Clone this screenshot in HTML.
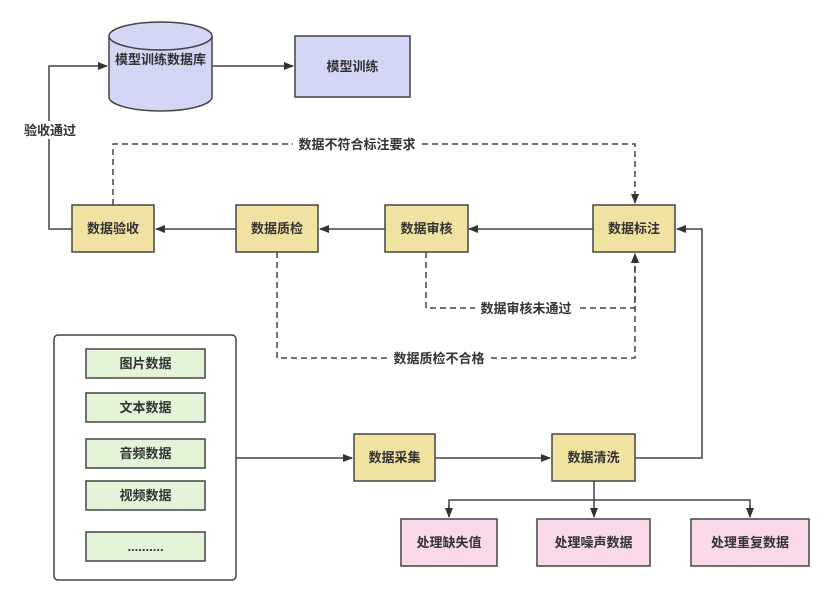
<!DOCTYPE html>
<html><head><meta charset="utf-8"><style>
html,body{margin:0;padding:0;background:#fff;}
svg text{font-family:"Liberation Sans","Noto Sans CJK SC",sans-serif;font-weight:bold;fill:#333;font-size:13px;}
</style></head><body>
<svg width="830" height="602" viewBox="0 0 830 602" xmlns="http://www.w3.org/2000/svg">
<defs>
<marker id="a" markerWidth="10" markerHeight="8" refX="9" refY="4" orient="auto" markerUnits="userSpaceOnUse"><path d="M0,0 L10,4 L0,8 Z" fill="#333"/></marker>
</defs>
<g stroke="#444" stroke-width="1.5" fill="none">
<!-- solid connectors -->
<path d="M72,229 H49 V66 H107" marker-end="url(#a)"/>
<path d="M212,66 H293" marker-end="url(#a)"/>
<path d="M236,229 H156" marker-end="url(#a)"/>
<path d="M385,229 H320" marker-end="url(#a)"/>
<path d="M593,229 H469" marker-end="url(#a)"/>
<path d="M236,458 H352" marker-end="url(#a)"/>
<path d="M435,458 H550" marker-end="url(#a)"/>
<path d="M635,458 H702 V229 H677" marker-end="url(#a)"/>
<path d="M594,481 V517" marker-end="url(#a)"/>
<path d="M449,517 V500 H750 V517" />
<path d="M449,505 V517" marker-end="url(#a)"/>
<path d="M750,505 V517" marker-end="url(#a)"/>
<!-- dashed -->
<g stroke-dasharray="6,4">
<path d="M113,205 V144 H635 V203" marker-end="url(#a)"/>
<path d="M426,252 V308 H635 V254" marker-end="url(#a)"/>
<path d="M277,252 V358 H635 V254" marker-end="url(#a)"/>
</g>
</g>
<!-- label backgrounds -->
<g fill="#fff">
<rect x="22" y="121" width="56" height="18"/>
<rect x="293" y="135" width="128" height="18"/>
<rect x="475" y="299" width="102" height="18"/>
<rect x="388" y="349" width="102" height="18"/>
</g>
<text x="50" y="135" text-anchor="middle">验收通过</text>
<text x="357" y="149" text-anchor="middle">数据不符合标注要求</text>
<text x="526" y="313" text-anchor="middle">数据审核未通过</text>
<text x="439" y="363" text-anchor="middle">数据质检不合格</text>
<!-- cylinder -->
<path d="M109,36 V97 A51.5,14 0 0 0 212,97 V36" fill="#d4d6f5" stroke="#444" stroke-width="1.5"/>
<ellipse cx="160.5" cy="36" rx="51.5" ry="14" fill="#d4d6f5" stroke="#444" stroke-width="1.5"/>
<text x="160.5" y="64" text-anchor="middle">模型训练数据库</text>
<rect x="295" y="36" width="115" height="61" fill="#d4d6f5" stroke="#444" stroke-width="1.5"/>
<text x="352.5" y="71" text-anchor="middle">模型训练</text>
<!-- yellow -->
<g fill="#f0e2a0" stroke="#444" stroke-width="1.5">
<rect x="72" y="205" width="82" height="47"/>
<rect x="236" y="205" width="82" height="47"/>
<rect x="385" y="205" width="83" height="47"/>
<rect x="593" y="205" width="82" height="47"/>
<rect x="354" y="434" width="81" height="47"/>
<rect x="552" y="434" width="83" height="47"/>
</g>
<g text-anchor="middle">
<text x="113" y="233">数据验收</text>
<text x="277" y="233">数据质检</text>
<text x="426.5" y="233">数据审核</text>
<text x="634" y="233">数据标注</text>
<text x="394.5" y="462">数据采集</text>
<text x="593.5" y="462">数据清洗</text>
</g>
<!-- outer box -->
<rect x="54" y="335" width="182" height="245" rx="4" fill="#fff" stroke="#444" stroke-width="1.5"/>
<g fill="#e3f4d9" stroke="#444" stroke-width="1.5">
<rect x="86" y="349" width="119" height="29"/>
<rect x="86" y="393" width="119" height="29"/>
<rect x="86" y="439" width="119" height="29"/>
<rect x="86" y="481" width="119" height="29"/>
<rect x="86" y="532" width="119" height="29"/>
</g>
<g text-anchor="middle">
<text x="145.5" y="368">图片数据</text>
<text x="145.5" y="412">文本数据</text>
<text x="145.5" y="458">音频数据</text>
<text x="145.5" y="500">视频数据</text>
<text x="145.5" y="551" font-size="11">..........</text>
</g>
<!-- pink -->
<g fill="#f9d9ea" stroke="#444" stroke-width="1.5">
<rect x="401" y="519" width="96" height="47"/>
<rect x="537" y="519" width="113" height="47"/>
<rect x="691" y="519" width="118" height="47"/>
</g>
<g text-anchor="middle">
<text x="449" y="547">处理缺失值</text>
<text x="593.5" y="547">处理噪声数据</text>
<text x="750" y="547">处理重复数据</text>
</g>
</svg>
</body></html>
